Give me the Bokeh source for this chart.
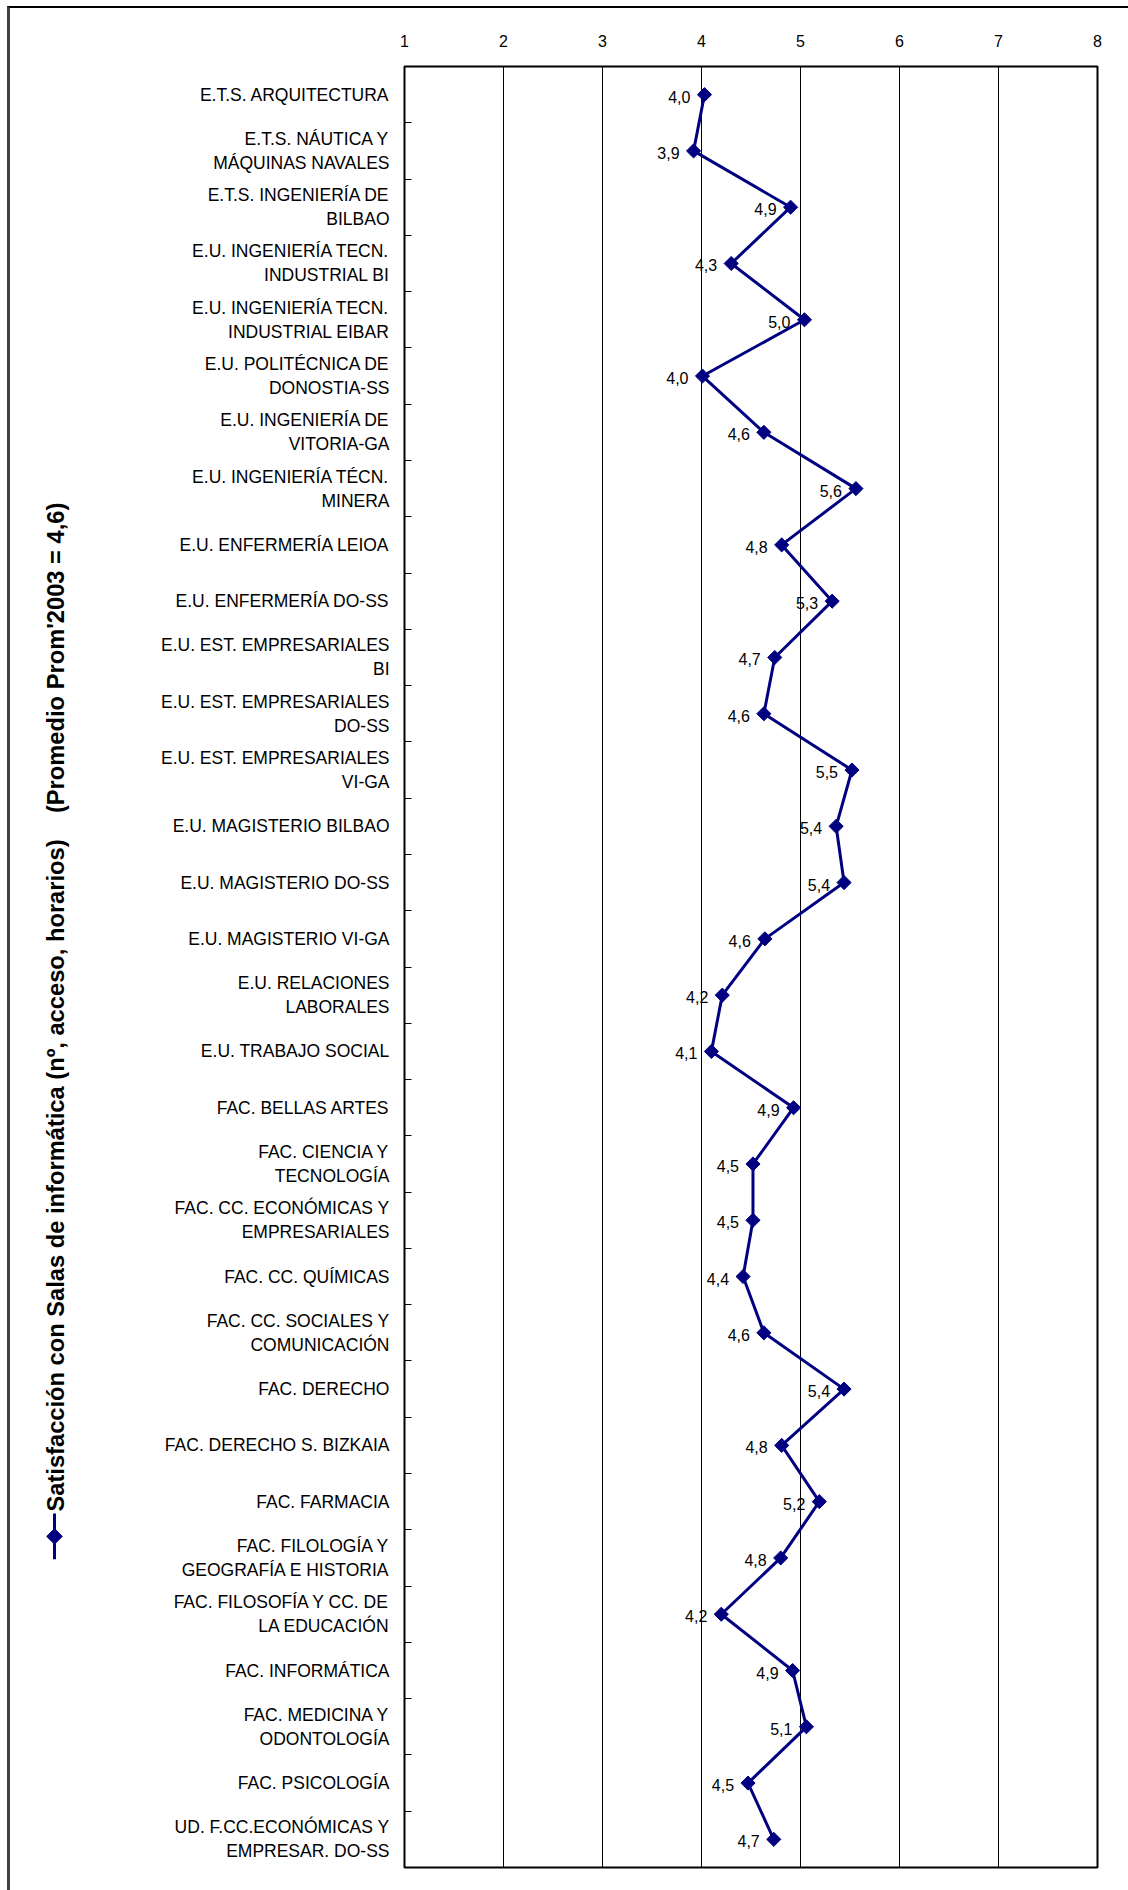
import numpy as np
from bokeh.plotting import figure
from bokeh.layouts import row
from bokeh.models import Range1d, FixedTicker, ColumnDataSource, LabelSet
from bokeh.core.properties import value
from bokeh.embed import file_html
from bokeh.resources import INLINE

categories = [
    "E.T.S. ARQUITECTURA",
    "E.T.S. NÁUTICA Y\nMÁQUINAS NAVALES",
    "E.T.S. INGENIERÍA DE\nBILBAO",
    "E.U. INGENIERÍA TECN.\nINDUSTRIAL BI",
    "E.U. INGENIERÍA TECN.\nINDUSTRIAL EIBAR",
    "E.U. POLITÉCNICA DE\nDONOSTIA-SS",
    "E.U. INGENIERÍA DE\nVITORIA-GA",
    "E.U. INGENIERÍA TÉCN.\nMINERA",
    "E.U. ENFERMERÍA LEIOA",
    "E.U. ENFERMERÍA DO-SS",
    "E.U. EST. EMPRESARIALES\nBI",
    "E.U. EST. EMPRESARIALES\nDO-SS",
    "E.U. EST. EMPRESARIALES\nVI-GA",
    "E.U. MAGISTERIO BILBAO",
    "E.U. MAGISTERIO DO-SS",
    "E.U. MAGISTERIO VI-GA",
    "E.U. RELACIONES\nLABORALES",
    "E.U. TRABAJO SOCIAL",
    "FAC. BELLAS ARTES",
    "FAC. CIENCIA Y\nTECNOLOGÍA",
    "FAC. CC. ECONÓMICAS Y\nEMPRESARIALES",
    "FAC. CC. QUÍMICAS",
    "FAC. CC. SOCIALES Y\nCOMUNICACIÓN",
    "FAC. DERECHO",
    "FAC. DERECHO S. BIZKAIA",
    "FAC. FARMACIA",
    "FAC. FILOLOGÍA Y\nGEOGRAFÍA E HISTORIA",
    "FAC. FILOSOFÍA Y CC. DE\nLA EDUCACIÓN",
    "FAC. INFORMÁTICA",
    "FAC. MEDICINA Y\nODONTOLOGÍA",
    "FAC. PSICOLOGÍA",
    "UD. F.CC.ECONÓMICAS Y\nEMPRESAR. DO-SS",
]

values = [4.03, 3.92, 4.90, 4.30, 5.04, 4.01, 4.63, 5.56, 4.81, 5.32,
          4.74, 4.63, 5.52, 5.36, 5.44, 4.64, 4.21, 4.10, 4.93, 4.52,
          4.52, 4.42, 4.63, 5.44, 4.81, 5.19, 4.80, 4.20, 4.92, 5.06,
          4.47, 4.73]

x_ticks = [1, 2, 3, 4, 5, 6, 7, 8]

series_name = "Satisfacción con Salas de informática (nº, acceso, horarios)\u00a0\u00a0\u00a0\u00a0(Promedio Prom'2003 = 4,6)"

n = len(categories)
ypos = [i + 0.5 for i in range(n)]
labels = [f"{v:.1f}".replace(".", ",") for v in values]

source = ColumnDataSource(dict(x=values, y=ypos, lab=labels))

NAVY = "#000080"
FONT = "Liberation Sans"

H = 1882
LW = 80          # width of the legend strip on the left
MW = 1118 - LW   # width of the main chart

# ---------------- main chart ----------------
p = figure(width=MW, height=H, output_backend="svg", toolbar_location=None,
           x_range=Range1d(x_ticks[0], x_ticks[-1]), y_range=Range1d(n, 0),
           x_axis_location="above",
           min_border_left=394 - LW, min_border_top=58, min_border_bottom=23, min_border_right=31)

p.outline_line_color = "black"
p.outline_line_width = 2
p.background_fill_color = "white"
p.border_fill_color = "white"

xa = p.xaxis[0]
xa.ticker = FixedTicker(ticks=x_ticks)
xa.major_tick_line_color = None
xa.major_tick_out = 0
xa.major_tick_in = 0
xa.minor_tick_line_color = None
xa.axis_line_color = None
xa.major_label_text_font = FONT
xa.major_label_text_font_size = "16px"
xa.major_label_text_color = "black"
xa.major_label_standoff = 20

ya = p.yaxis[0]
ya.ticker = FixedTicker(ticks=ypos, minor_ticks=list(range(1, n)))
ya.major_label_overrides = {y: c for y, c in zip(ypos, categories)}
ya.major_tick_line_color = None
ya.major_tick_out = 0
ya.major_tick_in = 0
ya.minor_tick_line_color = "black"
ya.minor_tick_in = 7
ya.minor_tick_out = 0
ya.axis_line_color = None
ya.major_label_text_font = FONT
ya.major_label_text_font_size = "17.5px"
ya.major_label_text_color = "black"
ya.major_label_standoff = 15

p.xgrid.ticker = FixedTicker(ticks=x_ticks)
p.xgrid.grid_line_color = "black"
p.xgrid.grid_line_width = 1
p.ygrid.grid_line_color = None

p.line("x", "y", source=source, line_color=NAVY, line_width=3)
p.scatter("x", "y", source=source, marker="square", angle=np.pi / 4, size=10,
          fill_color=NAVY, line_color=NAVY)

p.add_layout(LabelSet(x="x", y="y", text="lab", source=source, x_offset=-14, y_offset=-2,
                      text_align="right", text_baseline="middle",
                      text_font=value(FONT), text_font_size="16px", text_color="black"))

# ---------------- legend strip (rotated legend) ----------------
lg = figure(width=LW, height=H, output_backend="svg", toolbar_location=None,
            x_range=Range1d(0, LW), y_range=Range1d(H, 0),
            x_axis_location=None, y_axis_location=None, min_border=0)
lg.outline_line_color = None
lg.grid.grid_line_color = None
lg.background_fill_color = "white"
lg.border_fill_color = "white"

leg_x = 45
lg.text(x=[leg_x], y=[1510], text=[series_name], angle=np.pi / 2,
        text_align="left", text_baseline="middle",
        text_font=value(FONT), text_font_size="23.7px", text_font_style="bold",
        text_color="black")
lg.segment(x0=[leg_x - 1], y0=[1512], x1=[leg_x - 1], y1=[1560], line_color=NAVY, line_width=3)
lg.scatter(x=[leg_x - 1], y=[1536], marker="square", angle=np.pi / 4, size=11,
           fill_color=NAVY, line_color=NAVY)

layout = row(lg, p, spacing=0)
layout.styles = {"margin-left": "7px", "margin-top": "6px",
                 "border-left": "3px solid #404040", "border-top": "2px solid black"}

open("out.html", "w").write(file_html(layout, INLINE))
